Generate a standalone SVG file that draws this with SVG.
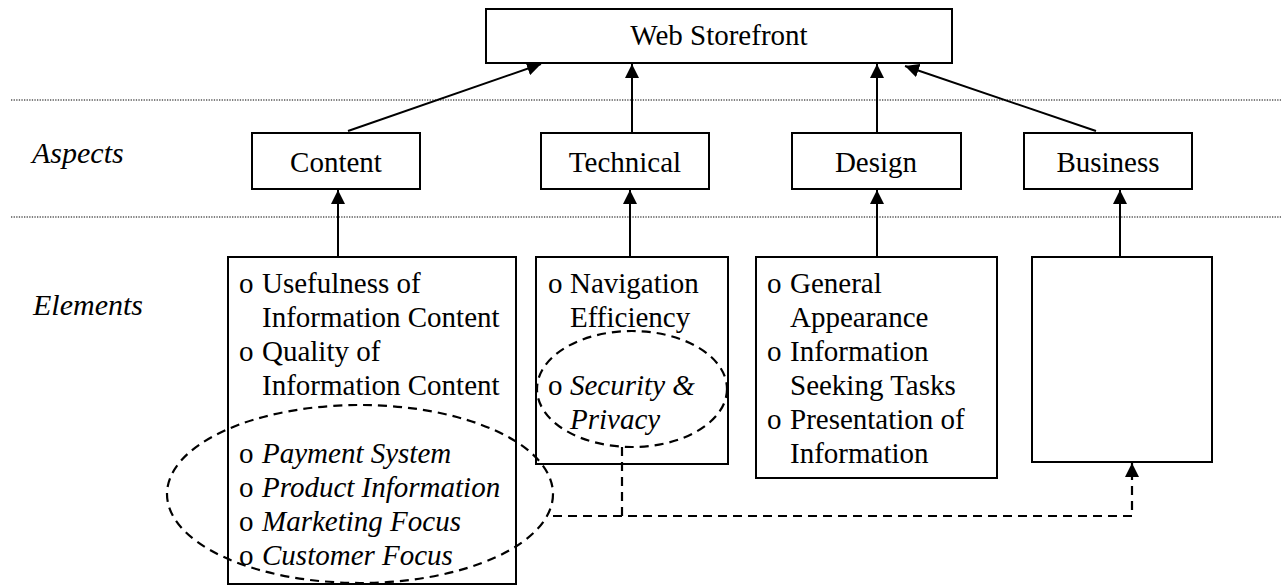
<svg xmlns="http://www.w3.org/2000/svg" width="1281" height="586" viewBox="0 0 1281 586">
<style>
text{font-family:"Liberation Serif","Times New Roman",serif;font-size:29px;fill:#000}
.i{font-style:italic}
.c{text-anchor:middle}
.box{fill:#fff;stroke:#000;stroke-width:2}
.ln{stroke:#000;stroke-width:2;fill:none}
.dash{stroke:#000;stroke-width:2.2;fill:none;stroke-dasharray:9 6}
.dot{stroke:#000;stroke-width:1.2;stroke-dasharray:1.3 1.3}
.lbl{font-size:30px}
</style>
<defs>
<marker id="ah" viewBox="0 0 14 14" refX="14" refY="7" markerWidth="14" markerHeight="14" markerUnits="userSpaceOnUse" orient="auto">
<path d="M0,0 L14,7 L0,14 Z" fill="#000"/>
</marker>
</defs>
<rect width="1281" height="586" fill="#fff"/>
<g id="separators">
<line class="dot" x1="11" y1="100" x2="1281" y2="100"/>
<line class="dot" x1="11" y1="217" x2="1281" y2="217"/>
</g>
<g id="row-labels">
<text class="i lbl" x="32" y="163">Aspects</text>
<text class="i lbl" x="33" y="315">Elements</text>
</g>
<g id="web-storefront">
<rect class="box" x="486" y="9" width="466" height="54"/>
<text class="c" x="719" y="45">Web Storefront</text>
</g>
<g id="aspect-content">
<rect class="box" x="252" y="133" width="168" height="56"/>
<text class="c" x="336" y="172">Content</text>
</g>
<g id="aspect-technical">
<rect class="box" x="541" y="133" width="168" height="56"/>
<text class="c" x="625" y="172">Technical</text>
</g>
<g id="aspect-design">
<rect class="box" x="792" y="133" width="169" height="56"/>
<text class="c" x="876" y="172">Design</text>
</g>
<g id="aspect-business">
<rect class="box" x="1024" y="133" width="168" height="56"/>
<text class="c" x="1108" y="172">Business</text>
</g>
<g id="elements-content">
<rect class="box" x="228" y="257" width="288" height="327"/>
<text x="239" y="293">o</text><text x="262" y="293">Usefulness of</text>
<text x="262" y="327">Information Content</text>
<text x="239" y="361">o</text><text x="262" y="361">Quality of</text>
<text x="262" y="395">Information Content</text>
<text x="239" y="463">o</text><text class="i" x="262" y="463">Payment System</text>
<text x="239" y="497">o</text><text class="i" x="262" y="497">Product Information</text>
<text x="239" y="531">o</text><text class="i" x="262" y="531">Marketing Focus</text>
<text x="239" y="565">o</text><text class="i" x="262" y="565">Customer Focus</text>
</g>
<g id="elements-technical">
<rect class="box" x="536" y="257" width="192" height="207"/>
<text x="548" y="293">o</text><text x="570" y="293">Navigation</text>
<text x="570" y="327">Efficiency</text>
<text x="548" y="395">o</text><text class="i" x="570" y="395">Security &amp;</text>
<text class="i" x="570" y="429">Privacy</text>
</g>
<g id="elements-design">
<rect class="box" x="756" y="257" width="241" height="221"/>
<text x="767" y="293">o</text><text x="790" y="293">General</text>
<text x="790" y="327">Appearance</text>
<text x="767" y="361">o</text><text x="790" y="361">Information</text>
<text x="790" y="395">Seeking Tasks</text>
<text x="767" y="429">o</text><text x="790" y="429">Presentation of</text>
<text x="790" y="463">Information</text>
</g>
<g id="elements-business">
<rect class="box" x="1032" y="257" width="180" height="205"/>
</g>
<g id="highlights">
<ellipse class="dash" cx="360" cy="494" rx="193" ry="89"/>
<ellipse class="dash" cx="632" cy="389" rx="95" ry="58"/>
</g>
<g id="connectors">
<line class="ln" x1="348" y1="131" x2="541" y2="64" marker-end="url(#ah)"/>
<line class="ln" x1="632" y1="133" x2="632" y2="64" marker-end="url(#ah)"/>
<line class="ln" x1="877" y1="133" x2="877" y2="64" marker-end="url(#ah)"/>
<line class="ln" x1="1096" y1="131" x2="905" y2="66" marker-end="url(#ah)"/>
<line class="ln" x1="338" y1="257" x2="338" y2="190" marker-end="url(#ah)"/>
<line class="ln" x1="630" y1="257" x2="630" y2="190" marker-end="url(#ah)"/>
<line class="ln" x1="877" y1="257" x2="877" y2="190" marker-end="url(#ah)"/>
<line class="ln" x1="1120" y1="257" x2="1120" y2="190" marker-end="url(#ah)"/>
<path class="dash" d="M622,447 L622,516 M553,516 L1132,516 L1132,463" marker-end="url(#ah)"/>
</g>
</svg>
